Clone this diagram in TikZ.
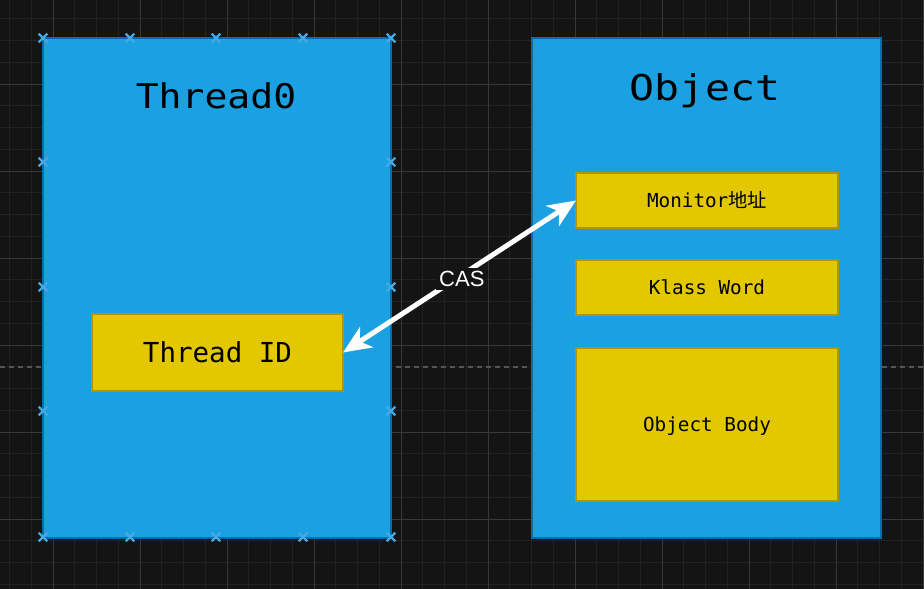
\documentclass[tikz,border=0pt]{standalone}
\usepackage{fontspec}
\setmainfont{DejaVu Sans Mono}
\newfontfamily\monofont{DejaVu Sans Mono}
\newfontfamily\titleA{DejaVu Sans Mono}[FakeStretch=1.12]
\newfontfamily\titleB{DejaVu Sans Mono}[FakeStretch=1.17]
\newfontfamily\cjk{Noto Sans CJK SC}
\newfontfamily\labelfont{Liberation Sans}
\usetikzlibrary{arrows.meta,shapes.misc}
\definecolor{bg}{HTML}{141414}
\definecolor{gridminor}{HTML}{222222}
\definecolor{gridmajor}{HTML}{383838}
\definecolor{bluefill}{HTML}{1BA1E2}
\definecolor{bluestroke}{HTML}{006EAF}
\definecolor{yelfill}{HTML}{E3C800}
\definecolor{yelstroke}{HTML}{B09500}
\definecolor{handle}{HTML}{45A8E3}
\definecolor{pageline}{HTML}{555555}
\tikzset{
  bigbox/.style={draw=bluestroke, fill=bluefill, line width=2.6pt, outer sep=0pt, inner sep=0pt},
  field/.style={draw=yelstroke, fill=yelfill, line width=2.4pt, outer sep=0pt, inner sep=0pt, text depth=0pt},
  handlemark/.style={cross out, draw=handle, line width=2.2pt, minimum size=6.5pt, inner sep=0pt},
  caslabel/.style={fill=bg, text=white, inner sep=3pt, font=\labelfont\fontsize{22}{24}\selectfont},
  link/.style={draw=white, line width=5pt, {Stealth[length=28pt,width=24pt,inset=8pt]}-{Stealth[length=28pt,width=24pt,inset=8pt]}}
}
\begin{document}
\begin{tikzpicture}[x=1pt,y=-1pt]
\useasboundingbox (0,0) rectangle (924,589);
\fill[bg] (0,0) rectangle (924,589);
% grid
\foreach \i in {0,...,42} {\draw[gridminor, line width=1pt] ({9.5+21.75*\i},0) -- ({9.5+21.75*\i},589);}
\foreach \i in {0,...,26} {\draw[gridminor, line width=1pt] (0,{18.75+21.75*\i}) -- (924,{18.75+21.75*\i});}
\foreach \i in {0,...,10} {\draw[gridmajor, line width=1pt] ({53+87*\i},0) -- ({53+87*\i},589);}
\foreach \i in {0,...,5} {\draw[gridmajor, line width=1pt] (0,{84+87*\i}) -- (924,{84+87*\i});}
% page break line
\draw[pageline, line width=1.2pt, dash pattern=on 4.5pt off 4.5pt] (0,367) -- (924,367);
% boxes
\node[bigbox, minimum width=348pt, minimum height=500pt] (thread) at (217,288) {};
\node[bigbox, minimum width=349pt, minimum height=500pt] (object) at (706.5,288) {};
\node[anchor=base, inner sep=0pt, font=\titleA\fontsize{34}{38}\selectfont] (threadtitle) at (216,108) {Thread0};
\node[anchor=base, inner sep=0pt, font=\titleB\fontsize{35.5}{40}\selectfont] (objecttitle) at (705,100) {Object};
\node[field, minimum width=251pt, minimum height=77pt, text height=20pt, font=\monofont\fontsize{27.5}{30}\selectfont] (tid) at (217.5,352.5) {Thread ID};
\node[field, minimum width=262pt, minimum height=55pt, text height=14pt, font=\monofont\fontsize{19.3}{22}\selectfont] (mon) at (707,200.5) {Monitor{\cjk 地址}};
\node[field, minimum width=262pt, minimum height=55pt, text height=14pt, font=\monofont\fontsize{19.3}{22}\selectfont] (klass) at (707,287.5) {Klass Word};
\node[field, minimum width=262pt, minimum height=153pt, text height=14pt, font=\monofont\fontsize{19.3}{22}\selectfont] (body) at (707,424.5) {Object Body};
% connection handles on Thread0
\foreach \x in {43,130,216,303,391} {
  \node[handlemark] at (\x,38) {};
  \node[handlemark] at (\x,537) {};
}
\foreach \y in {162,287,411} {
  \node[handlemark] at (43,\y) {};
  \node[handlemark] at (391,\y) {};
}
% CAS link
\draw[link] (tid.east) -- (mon.west) node[caslabel, pos=0.51, yshift=-4pt] (cas) {CAS};
\end{tikzpicture}
\end{document}
